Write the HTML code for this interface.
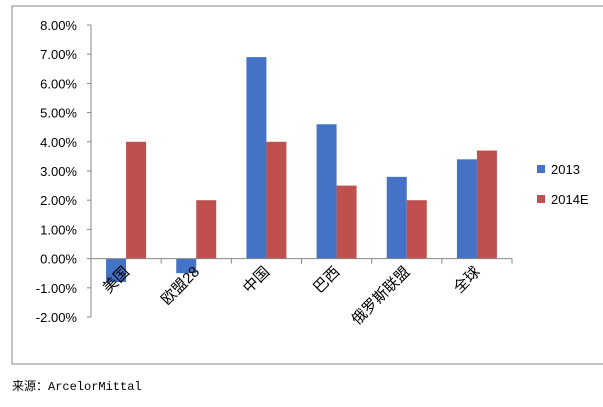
<!DOCTYPE html>
<html><head><meta charset="utf-8"><style>
body{margin:0;background:#fff;width:603px;height:402px;overflow:hidden}
svg text{font-family:"Liberation Sans","Noto Sans CJK SC",sans-serif}
</style></head><body>
<svg width="603" height="402">
<rect x="12" y="6" width="600" height="358" fill="none" stroke="#888" stroke-width="1"/>
<g id="plot"></g>
<text x="12" y="390" font-size="12" style="font-family:'Liberation Mono','Noto Sans CJK SC',monospace">来源：ArcelorMittal</text>
</svg>
<script>
const categories=["美国","欧盟28","中国","巴西","俄罗斯联盟","全球"];
const s2013=[-0.8,-0.5,6.9,4.6,2.8,3.4];
const s2014=[4.0,2.0,4.0,2.5,2.0,3.7];
const ticks=[8,7,6,5,4,3,2,1,0,-1,-2];
const seriesNames=["2013","2014E"];
const colors=["#4472C4","#C0504D"];
const NS="http://www.w3.org/2000/svg";
const g=document.getElementById('plot');
const x0=91,x1=512,yTop=25,yBot=317,vMax=8,vMin=-2;
const y=v=>yTop+(vMax-v)/(vMax-vMin)*(yBot-yTop);
const cw=(x1-x0)/categories.length;
function mk(t,a){const e=document.createElementNS(NS,t);for(const k in a)e.setAttribute(k,a[k]);g.appendChild(e);return e;}
let ax=mk('line',{x1:x0,y1:yTop,x2:x0,y2:yBot,stroke:'#888'});


ticks.forEach(t=>{
 const tl=mk('line',{x1:x0-4,y1:y(t),x2:x0,y2:y(t),stroke:'#888'});
 
 
 const tx=mk('text',{x:x0-14,y:y(t)+5,'text-anchor':'end','font-size':13,fill:'#000'});
 tx.textContent=t.toFixed(2)+'%';
 
 
});
[s2013,s2014].forEach((s,si)=>{
 s.forEach((v,i)=>{
  const cx=x0+cw*(i+0.5);
  const bx=cx-20+si*20;
  const r=mk('rect',{x:bx,y:Math.min(y(v),y(0)),width:20,height:Math.abs(y(v)-y(0)),fill:colors[si]});
  
  
 });
});
let xa=mk('line',{x1:x0,y1:y(0),x2:x1,y2:y(0),stroke:'#888'});


for(let i=0;i<=categories.length;i++){
 const tl=mk('line',{x1:x0+cw*i,y1:y(0),x2:x0+cw*i,y2:y(0)+5,stroke:'#888'});
 
 
}
categories.forEach((c,i)=>{
 const cx=x0+cw*(i+0.5)+4,cy=y(0)+14;
 const t=mk('text',{x:cx,y:cy,'text-anchor':'end','font-size':15,transform:`rotate(-45 ${cx} ${cy})`});
 t.textContent=c;
 
 
});
seriesNames.forEach((n,i)=>{
 const ly=165+i*30;
 const r=mk('rect',{x:537,y:ly,width:8,height:8,fill:colors[i]});
 
 
 const t=mk('text',{x:551,y:ly+9,'font-size':13});
 t.textContent=n;
 
 
});
</script>
</body></html>
